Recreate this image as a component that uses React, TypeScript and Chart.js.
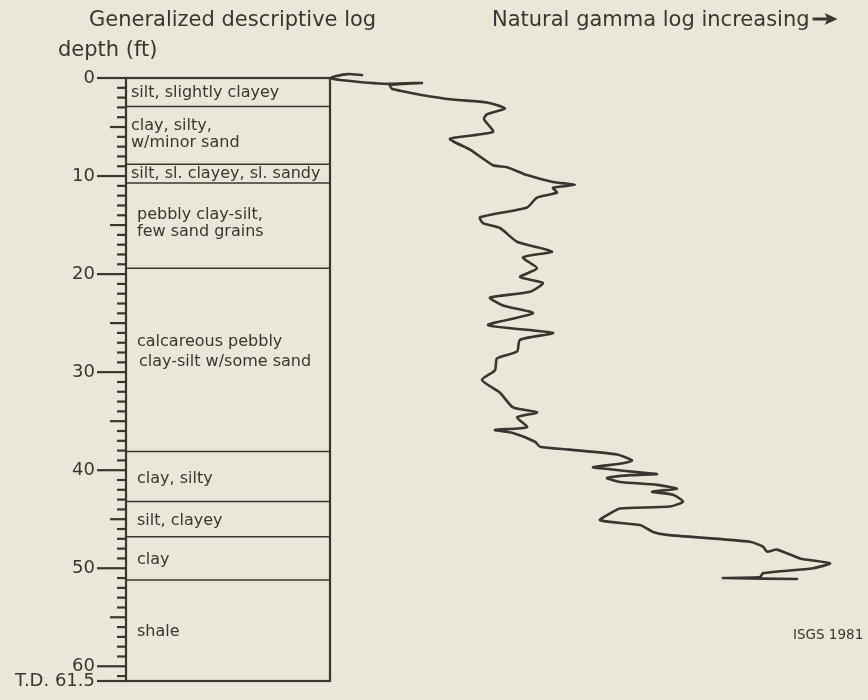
import React, { useEffect, useRef } from "react";
import { Chart, registerables } from "chart.js";

Chart.register(...registerables);

// ---- data ----
const DEPTH_TICKS = [0, 10, 20, 30, 40, 50, 60, 61.5];
const DEPTH_TICK_LABELS = ["0", "10", "20", "30", "40", "50", "60", "T.D. 61.5"];
const TOTAL_DEPTH = 61.5;
const LAYER_BOUNDARIES = [2.9, 8.8, 10.7, 19.4, 38.1, 43.2, 46.8, 51.2];
const LAYER_LABELS = [
  ["silt, slightly clayey"],
  ["clay, silty,", "w/minor sand"],
  ["silt, sl. clayey, sl. sandy"],
  ["pebbly clay-silt,", "few sand grains"],
  ["calcareous pebbly", "clay-silt w/some sand"],
  ["clay, silty"],
  ["silt, clayey"],
  ["clay"],
  ["shale"],
];
const LABEL_DEPTHS = [1.5, 5.7, 9.8, 14.8, 27.9, 40.9, 45.2, 49.1, 56.5];

// natural gamma log trace (depth in ft, relative gamma units)
const GAMMA_DEPTH = [
  -0.3, -0.4, -0.2, 0, 0.2, 0.6, 0.5, 0.7, 1.1, 1.4, 1.7, 2.2, 2.5, 3.1, 3.7, 4.2,
  5.5, 6.2, 7.3, 8.9, 9.1, 9.9, 10.6, 10.9, 11.2, 11.7, 12.2, 13.2, 14.2, 14.8, 15.3,
  16.7, 17.7, 18.3, 19.4, 20.3, 20.9, 21.8, 22.4, 23.2, 24.0, 25.2, 26.0, 26.7, 27.9,
  28.6, 29.8, 30.8, 32.1, 33.6, 34.1, 34.6, 35.6, 35.9, 36.2, 37.1, 37.6, 37.9, 38.4,
  39.0, 39.3, 39.7, 39.9, 40.2, 40.4, 40.5, 40.8, 41.2, 41.5, 41.9, 42.2, 42.5, 43.2,
  43.7, 43.9, 44.3, 45.1, 45.6, 46.3, 46.6, 47.3, 47.8, 48.3, 48.1, 49.0, 49.5, 50.0,
  50.5, 50.9, 51.0, 51.1,
];
const GAMMA_VALUE = [
  236, 222, 210, 205, 214, 261, 296, 264, 266, 279, 294, 327, 361, 379, 361, 358,
  367, 324, 344, 367, 381, 401, 427, 449, 427, 431, 411, 401, 354, 357, 374,
  391, 426, 397, 411, 394, 417, 404, 364, 377, 407, 362, 427, 394, 391,
  371, 369, 356, 374, 387, 411, 391, 401, 369, 387, 409, 414, 444, 491,
  506, 497, 467, 484, 511, 531, 504, 481, 494, 531, 551, 526, 547, 557,
  544, 494, 486, 474, 514, 527, 541, 624, 637, 641, 651, 674, 704, 687,
  637, 634, 597, 671,
];
const BOX_RIGHT_VALUE = 204;
const X_MAX = 742;

const TITLE_LEFT = "Generalized descriptive log";
const AXIS_TITLE = "depth (ft)";
const TITLE_RIGHT = "Natural gamma log increasing";
const CREDIT = "ISGS 1981";

const BG = "#ebe7d8";
const INK = "#3a3530";
const FONT = "'DejaVu Sans', 'Liberation Sans', sans-serif";

const logPlugin = {
  id: "logPlugin",
  beforeDraw(chart: any) {
    const ctx = chart.ctx;
    ctx.save();
    ctx.fillStyle = BG;
    ctx.fillRect(0, 0, chart.width, chart.height);
    ctx.restore();
  },
  beforeDatasetsDraw(chart: any) {
    const ctx = chart.ctx;
    const xs = chart.scales.x;
    const ys = chart.scales.y;
    const left = xs.getPixelForValue(0);
    const right = xs.getPixelForValue(BOX_RIGHT_VALUE);
    const top = ys.getPixelForValue(0);
    const bottom = ys.getPixelForValue(TOTAL_DEPTH);
    ctx.save();
    ctx.strokeStyle = INK;
    // layer boundaries
    ctx.lineWidth = 1.5;
    LAYER_BOUNDARIES.forEach((d) => {
      const y = ys.getPixelForValue(d);
      ctx.beginPath();
      ctx.moveTo(left, y);
      ctx.lineTo(right, y);
      ctx.stroke();
    });
    // box
    ctx.lineWidth = 2.2;
    ctx.strokeRect(left, top, right - left, bottom - top);
    // tick marks
    ctx.lineWidth = 2.2;
    const tickDepths: number[] = [];
    for (let d = 0; d <= 61; d++) tickDepths.push(d);
    tickDepths.push(TOTAL_DEPTH);
    tickDepths.forEach((d) => {
      const y = ys.getPixelForValue(d);
      const len = d % 10 === 0 || d === TOTAL_DEPTH ? 29 : d % 5 === 0 ? 16 : 9;
      ctx.beginPath();
      ctx.moveTo(left - len, y);
      ctx.lineTo(left, y);
      ctx.stroke();
    });
    // layer labels
    ctx.fillStyle = INK;
    ctx.font = `16px ${FONT}`;
    ctx.textBaseline = "middle";
    ctx.textAlign = "left";
    LAYER_LABELS.forEach((lines, i) => {
      const cy = ys.getPixelForValue(LABEL_DEPTHS[i]);
      const indent = i < 3 ? 5 : 11;
      const lh = i === 4 ? 20 : 17;
      lines.forEach((t, j) => {
        const y = cy + (j - (lines.length - 1) / 2) * lh;
        const extra = i === 4 && j === 1 ? 2 : 0;
        ctx.fillText(t, left + indent + extra, y);
      });
    });
    ctx.restore();
  },
  afterDraw(chart: any) {
    const ctx = chart.ctx;
    ctx.save();
    ctx.fillStyle = INK;
    ctx.textBaseline = "alphabetic";
    ctx.textAlign = "left";
    ctx.font = `21px ${FONT}`;
    ctx.fillText(TITLE_LEFT, 89, 26);
    ctx.fillText(AXIS_TITLE, 58, 56);
    ctx.fillText(TITLE_RIGHT, 492, 26);
    const w = ctx.measureText(TITLE_RIGHT).width;
    const ax = 492 + w + 3;
    const ay = 19;
    ctx.strokeStyle = INK;
    ctx.lineWidth = 3;
    ctx.beginPath();
    ctx.moveTo(ax, ay);
    ctx.lineTo(ax + 15, ay);
    ctx.stroke();
    ctx.beginPath();
    ctx.moveTo(ax + 12, ay - 6);
    ctx.lineTo(ax + 25, ay);
    ctx.lineTo(ax + 12, ay + 6);
    ctx.lineTo(ax + 15, ay);
    ctx.closePath();
    ctx.fill();
    ctx.font = `13.5px ${FONT}`;
    ctx.fillText(CREDIT, 793, 639);
    ctx.restore();
  },
};

export default function App() {
  const ref = useRef<HTMLCanvasElement | null>(null);
  useEffect(() => {
    const canvas = ref.current;
    if (!canvas) return;
    const points = GAMMA_DEPTH.map((d, i) => ({ x: GAMMA_VALUE[i], y: d }));
    const chart = new Chart(canvas, {
      type: "scatter",
      data: {
        datasets: [
          {
            data: points,
            showLine: true,
            borderColor: INK,
            borderWidth: 2.6,
            pointRadius: 0,
            pointHoverRadius: 0,
            tension: 0.2,
            clip: false as any,
            borderJoinStyle: "round",
            borderCapStyle: "round",
          },
        ],
      },
      options: {
        responsive: false,
        devicePixelRatio: 1,
        animation: false,
        events: [],
        layout: { padding: { left: 0, top: 78, right: 0, bottom: 19 } },
        plugins: { legend: { display: false }, tooltip: { enabled: false } },
        scales: {
          x: { type: "linear", min: 0, max: X_MAX, display: false },
          y: {
            type: "linear",
            reverse: true,
            min: 0,
            max: TOTAL_DEPTH,
            position: "left",
            grid: { display: false, drawTicks: false },
            border: { display: false },
            afterFit: (s: any) => {
              s.width = 126;
              s.paddingTop = 0;
              s.paddingBottom = 0;
            },
            afterBuildTicks: (s: any) => {
              s.ticks = DEPTH_TICKS.map((v) => ({ value: v }));
            },
            ticks: {
              autoSkip: false,
              padding: 31,
              color: INK,
              font: { family: FONT, size: 18 },
              callback: (v: any) => {
                const i = DEPTH_TICKS.indexOf(Number(v));
                return i >= 0 ? DEPTH_TICK_LABELS[i] : "";
              },
            },
          },
        },
      },
      plugins: [logPlugin],
    } as any);
    return () => chart.destroy();
  }, []);
  return (
    <div style={{ position: "absolute", left: 0, top: 0, width: 868, height: 700, background: BG }}>
      <canvas ref={ref} width={868} height={700} style={{ display: "block" }} />
    </div>
  );
}
